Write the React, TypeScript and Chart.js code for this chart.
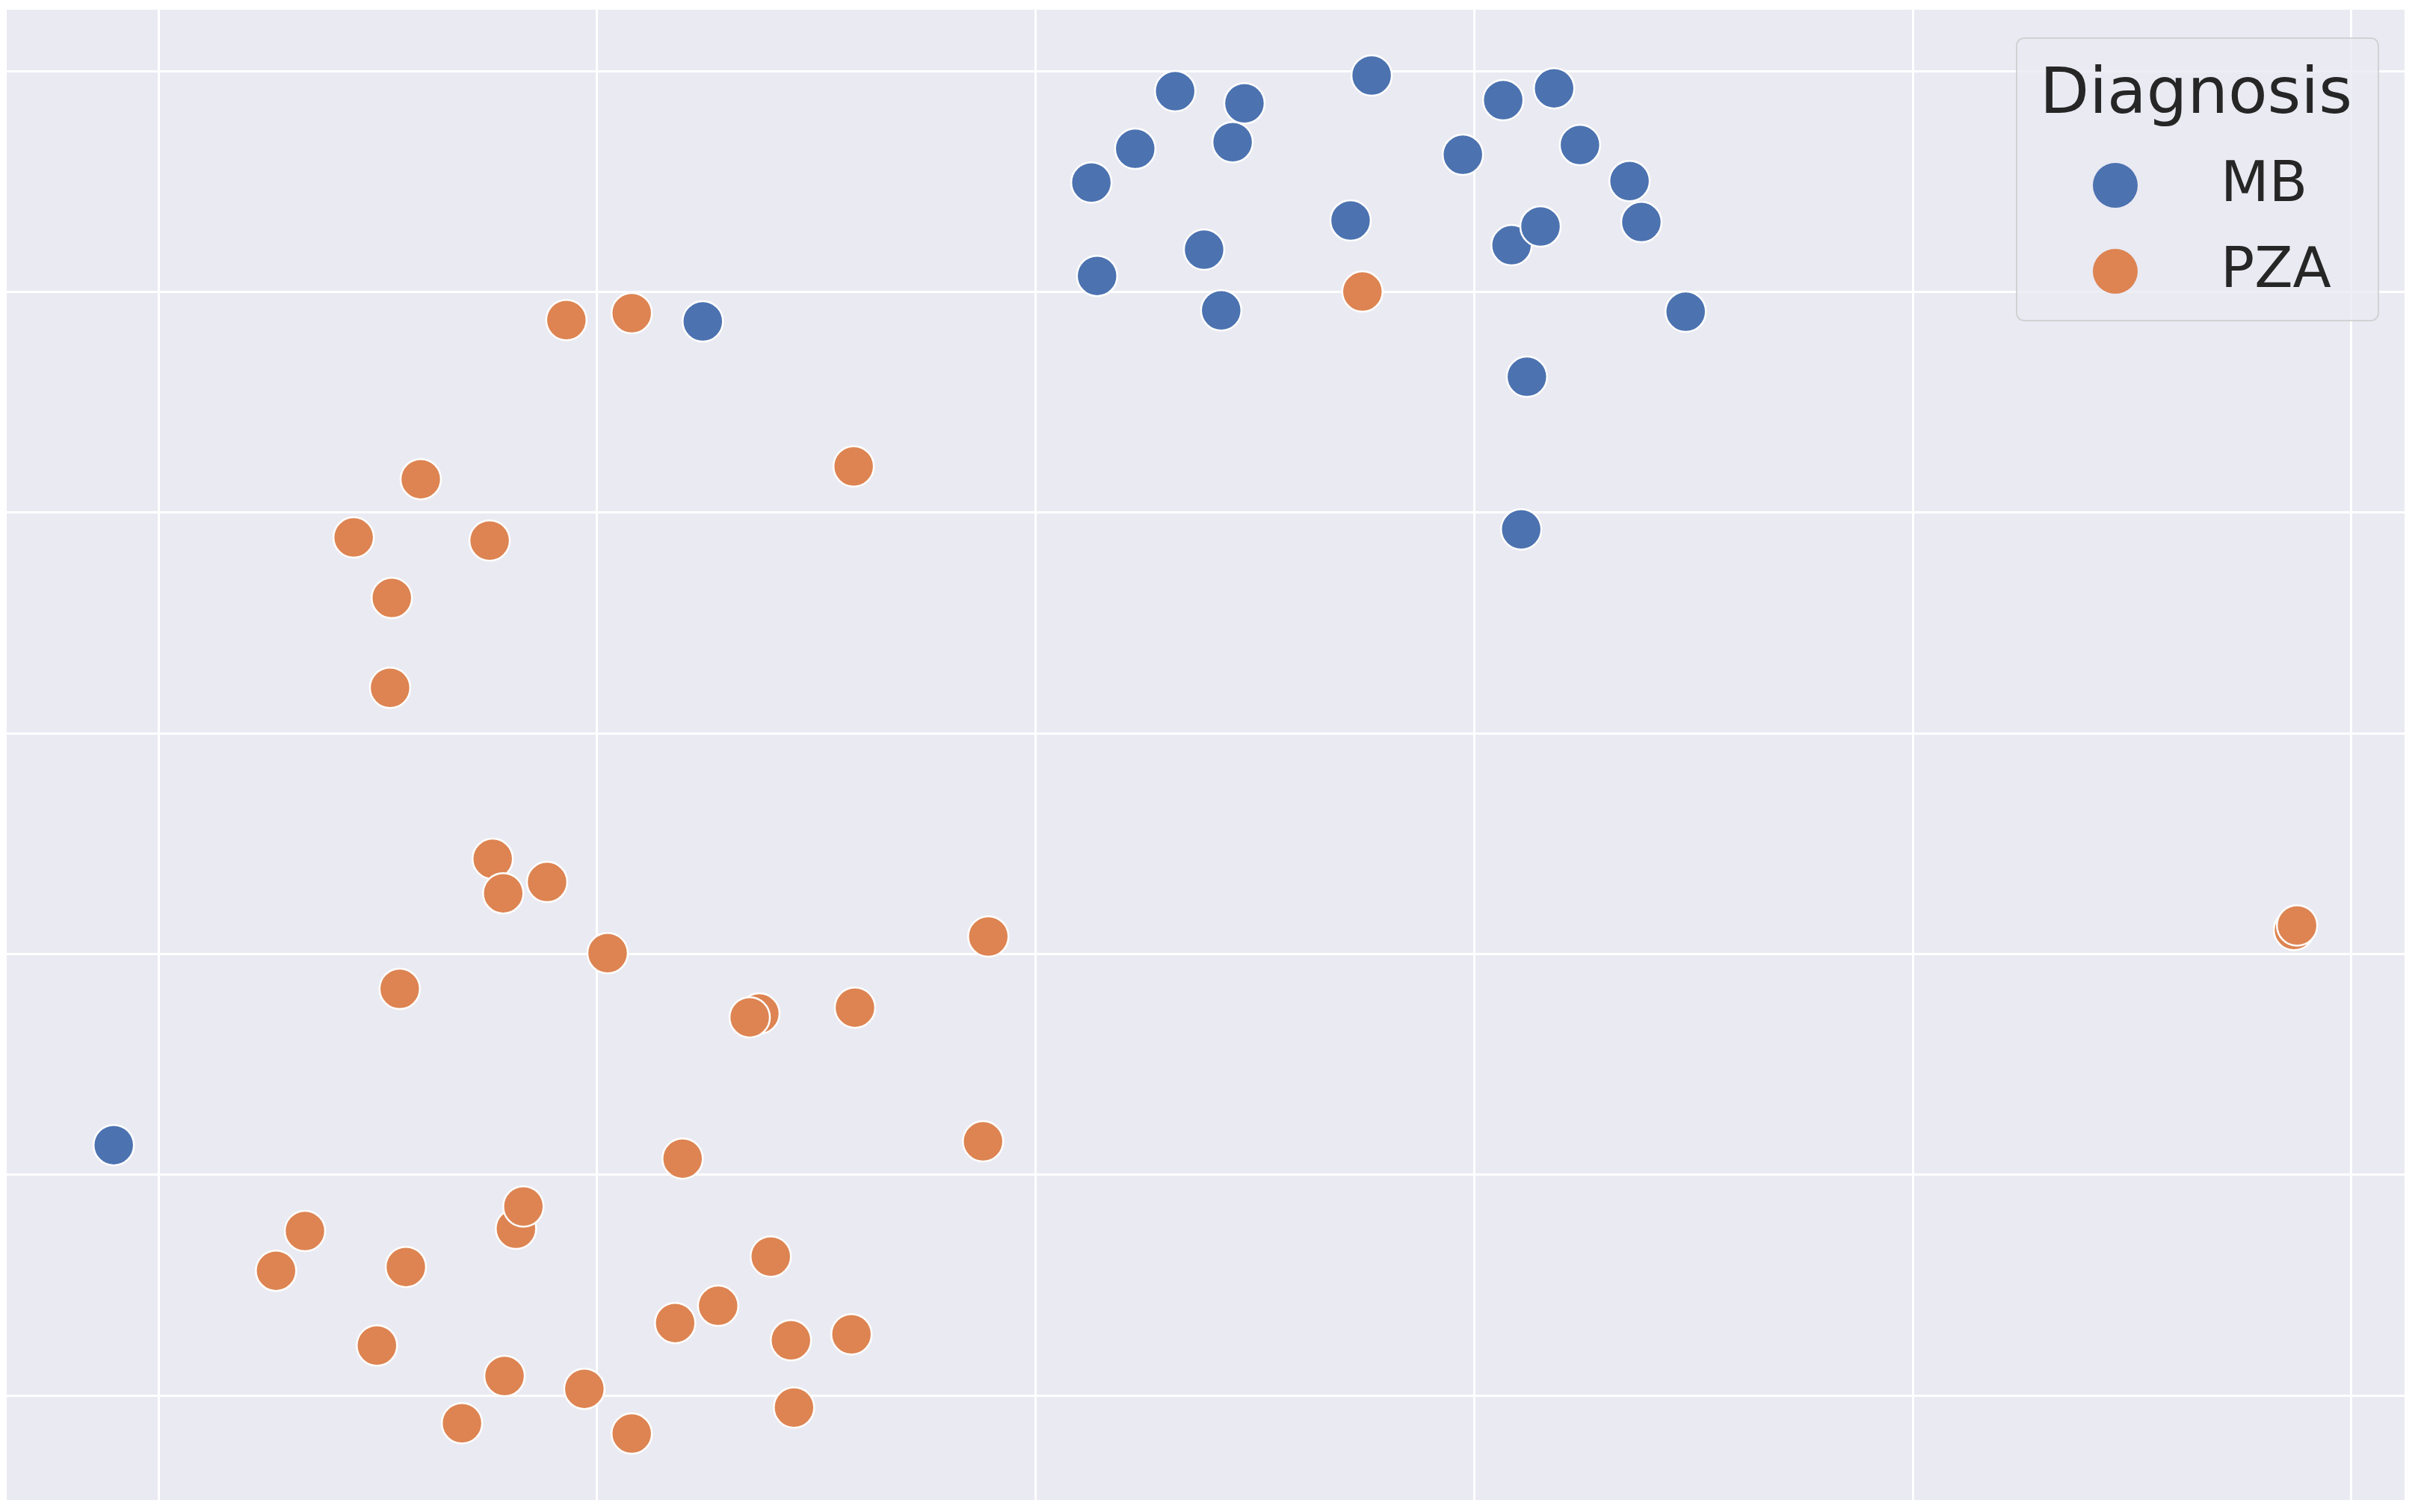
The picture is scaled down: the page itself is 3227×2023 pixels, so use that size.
import React, { useEffect, useRef } from "react";
import { Chart, registerables } from "chart.js";

Chart.register(...registerables);

// Axis grid (no tick labels shown in the reference)
const xTicks = [-20, -10, 0, 10, 20, 30];
const yTicks = [-30, -20, -10, 0, 10, 20, 30];
const xMin = -23.46;
const xMax = 31.21;
const yMin = -34.74;
const yMax = 32.78;

const legendTitle = "Diagnosis";
const seriesNames = ["MB", "PZA"];
const seriesColors = ["#4C72B0", "#DD8452"];

// MB series
const mbX = [3.18, 4.76, 7.66, 2.27, 4.49, 1.27, 10.66, 11.82, 9.74, 12.41, 13.54, 7.18, 3.84, 10.85, 11.51, 13.81, 1.4, 4.23, 14.82, 11.2, 11.07, -7.59, -21.02];
const mbY = [29.09, 28.54, 29.8, 26.48, 26.78, 24.95, 28.68, 29.22, 26.21, 26.65, 25.02, 23.23, 21.91, 22.11, 22.96, 23.16, 20.72, 19.16, 19.1, 16.15, 9.24, 18.66, -18.66];

// PZA series
const pzaX = [7.45, -10.7, -9.21, -4.15, -14.02, -15.55, -12.45, -14.68, -14.72, -12.38, -12.14, -11.14, -9.76, -14.5, -1.08, -6.3, -6.52, -4.12, -1.2, -8.05, -11.85, -11.68, -16.66, -17.32, -14.36, -6.04, -7.24, -8.22, -5.58, -4.2, -15.02, -12.11, -10.29, -13.08, -5.51, -9.21, 28.69, 28.76];
const pzaY = [20.01, 18.72, 19.03, 12.09, 11.51, 8.87, 8.73, 6.13, 2.06, -5.69, -7.25, -6.74, -9.96, -11.58, -9.21, -12.7, -12.87, -12.43, -18.49, -19.27, -22.45, -21.44, -22.55, -24.35, -24.18, -23.71, -25.94, -26.72, -27.5, -27.23, -27.74, -29.12, -29.7, -31.26, -30.55, -31.73, -8.91, -8.71];

const FONT = "'DejaVu Sans', 'Liberation Sans', sans-serif";
const TEXT_COLOR = "#262626";
const AXES_BG = "#EAEAF2";

const bgPlugin = {
  id: "bgPlugin",
  beforeDraw(chart: any) {
    const { ctx, chartArea } = chart;
    ctx.save();
    ctx.fillStyle = "#ffffff";
    ctx.fillRect(0, 0, chart.width, chart.height);
    ctx.fillStyle = AXES_BG;
    ctx.fillRect(chartArea.left, chartArea.top, chartArea.right - chartArea.left, chartArea.bottom - chartArea.top);
    ctx.restore();
  },
};

function roundRect(ctx: CanvasRenderingContext2D, x: number, y: number, w: number, h: number, r: number) {
  ctx.beginPath();
  ctx.moveTo(x + r, y);
  ctx.lineTo(x + w - r, y);
  ctx.arcTo(x + w, y, x + w, y + r, r);
  ctx.lineTo(x + w, y + h - r);
  ctx.arcTo(x + w, y + h, x + w - r, y + h, r);
  ctx.lineTo(x + r, y + h);
  ctx.arcTo(x, y + h, x, y + h - r, r);
  ctx.lineTo(x, y + r);
  ctx.arcTo(x, y, x + r, y, r);
  ctx.closePath();
}

const legendPlugin = {
  id: "seabornLegend",
  afterDraw(chart: any) {
    const { ctx, chartArea } = chart;
    const boxW = 484;
    const boxH = 378;
    const boxX = chartArea.right - 35 - boxW;
    const boxY = chartArea.top + 38;
    ctx.save();
    roundRect(ctx, boxX, boxY, boxW, boxH, 10);
    ctx.fillStyle = "rgba(234,234,242,0.8)";
    ctx.fill();
    ctx.lineWidth = 2;
    ctx.strokeStyle = "rgba(204,204,204,0.8)";
    ctx.stroke();

    ctx.fillStyle = TEXT_COLOR;
    ctx.textBaseline = "alphabetic";
    ctx.textAlign = "center";
    ctx.font = `86px ${FONT}`;
    ctx.fillText(legendTitle, boxX + boxW / 2 - 2, boxY + 100);

    ctx.textAlign = "left";
    ctx.font = `75px ${FONT}`;
    chart.data.datasets.forEach((ds: any, i: number) => {
      const cy = boxY + 197 + i * 115;
      ctx.beginPath();
      ctx.arc(boxX + 132, cy, 30, 0, Math.PI * 2);
      ctx.fillStyle = ds.backgroundColor;
      ctx.fill();
      ctx.fillStyle = TEXT_COLOR;
      ctx.fillText(ds.label, boxX + 273, cy + 21);
    });
    ctx.restore();
  },
};

export default function App() {
  const canvasRef = useRef<HTMLCanvasElement | null>(null);

  useEffect(() => {
    const canvas = canvasRef.current;
    if (!canvas) return;
    const series = [
      { xs: mbX, ys: mbY },
      { xs: pzaX, ys: pzaY },
    ];
    const chart = new Chart(canvas, {
      type: "scatter",
      data: {
        datasets: series.map((s, i) => ({
          label: seriesNames[i],
          data: s.xs.map((x, j) => ({ x, y: s.ys[j] })),
          backgroundColor: seriesColors[i],
          borderColor: "#ffffff",
          borderWidth: 2.5,
          pointRadius: 27,
          pointHoverRadius: 27,
        })),
      },
      options: {
        responsive: false,
        animation: false,
        events: [],
        devicePixelRatio: 1,
        layout: { autoPadding: false, padding: { left: 9, top: 13, right: 10, bottom: 16 } },
        plugins: {
          legend: { display: false },
          tooltip: { enabled: false },
          title: { display: false },
        },
        scales: {
          x: {
            type: "linear",
            min: xMin,
            max: xMax,
            border: { display: false },
            grid: { color: "#ffffff", lineWidth: 3, drawTicks: false },
            ticks: { display: false },
            afterBuildTicks: (scale: any) => {
              scale.ticks = xTicks.map((v) => ({ value: v }));
            },
          },
          y: {
            type: "linear",
            min: yMin,
            max: yMax,
            border: { display: false },
            grid: { color: "#ffffff", lineWidth: 3, drawTicks: false },
            ticks: { display: false },
            afterBuildTicks: (scale: any) => {
              scale.ticks = yTicks.map((v) => ({ value: v }));
            },
          },
        },
      },
      plugins: [bgPlugin, legendPlugin],
    });
    return () => chart.destroy();
  }, []);

  return (
    <canvas
      ref={canvasRef}
      width={3227}
      height={2023}
      style={{ position: "absolute", left: 0, top: 0, width: 3227, height: 2023, display: "block" }}
    />
  );
}
